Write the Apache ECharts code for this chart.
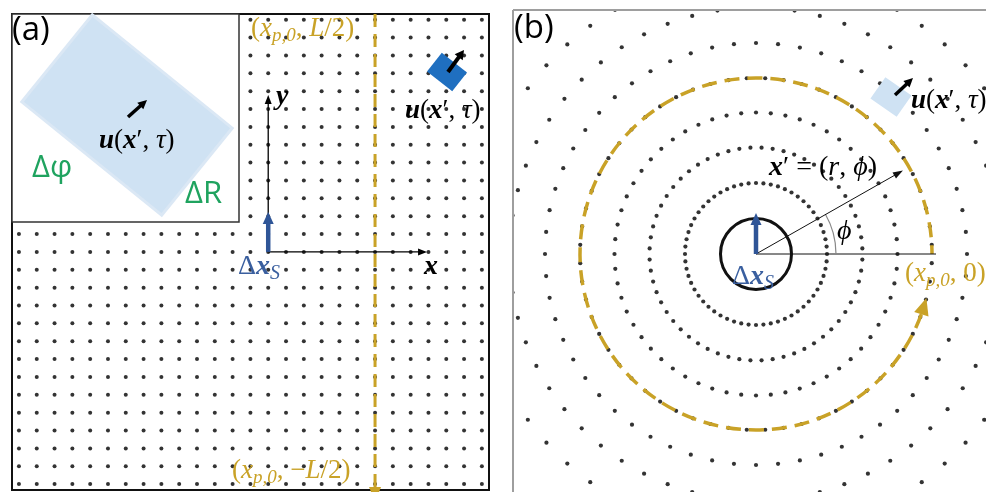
<!DOCTYPE html>
<html><head><meta charset="utf-8">
<script src="https://cdn.jsdelivr.net/npm/echarts@6/dist/echarts.min.js"></script>
<style>
html,body{margin:0;padding:0;background:#fff;width:986px;height:492px;overflow:hidden}
#a{position:absolute;left:0;top:0;width:500px;height:492px}
#b{position:absolute;left:512px;top:9px;width:474px;height:483px}
</style></head><body><div id="a"></div><div id="b"></div>
<script>
// ---------- data ----------
// panel (a): square lattice of source points (lattice units, origin at axes origin)
const latticeX = [-14,-13,-12,-11,-10,-9,-8,-7,-6,-5,-4,-3,-2,-1,0,1,2,3,4,5,6,7,8,9,10,11,12];
const latticeY = [-13,-12,-11,-10,-9,-8,-7,-6,-5,-4,-3,-2,-1,0,1,2,3,4,5,6,7,8,9,10,11,12,13];
const pathX = 6;                 // x_{p,0}
const pathYStart = 13.32;        // top of the straight path (L/2)
const pathYEnd = -13.16;         // bottom of the dashed path before the arrow
// panel (b): rings of source points
const ringRadius = [71, 106.5, 141.5, 176, 211, 246.5, 282];
const ringCount  = [60, 60, 60, 60, 60, 60, 60];
const ringOffset = [0, 3, 0, 3, 0, 3, 0];   // degrees
const pathRadius = 176;          // circular path radius
const pathArcEnd = 340;          // degrees, counter-clockwise from (x_{p,0},0)
const rayAngle = 29.6, rayLength = 169;

const gold = '#c9a227', green = '#1fa35f', blueDark = '#2f5597', blueLbl = '#3a5f9f';
const mathFont = 'Liberation Serif', sansFont = 'Open Sans';

// ---------- helpers ----------
function arrow(x1,y1,x2,y2,color,lw,hl,hw,z){
  const dx=x2-x1, dy=y2-y1, L=Math.hypot(dx,dy), ux=dx/L, uy=dy/L;
  const bx=x2-ux*hl, by=y2-uy*hl, px=-uy, py=ux;
  return [
    {type:'line', silent:true, z:z||50, shape:{x1:x1,y1:y1,x2:bx+ux*1.5,y2:by+uy*1.5}, style:{stroke:color,lineWidth:lw}},
    {type:'polygon', silent:true, z:z||50, shape:{points:[[x2,y2],[bx+px*hw/2,by+py*hw/2],[bx-px*hw/2,by-py*hw/2]]}, style:{fill:color}}
  ];
}
function mathRich(size,color){
  return {
    n:{fontFamily:mathFont,fontSize:size,fill:color},
    b:{fontFamily:mathFont,fontSize:size,fontWeight:'bold',fontStyle:'italic',fill:color},
    i:{fontFamily:mathFont,fontSize:size,fontStyle:'italic',fill:color},
    s:{fontFamily:mathFont,fontSize:Math.round(size*0.72),fontStyle:'italic',fill:color,padding:[Math.round(size*0.5),0,0,0]},
    g:{fontFamily:mathFont,fontSize:size,fill:color}
  };
}
function txt(x,y,text,rich,z){
  return {type:'text', silent:true, z:z||60, x:x, y:y,
    style:{text:text, rich:rich, fill:'#000', align:'left', textAlign:'left', verticalAlign:'middle', textVerticalAlign:'middle'}};
}
function plain(x,y,text,font,size,color,z){
  return {type:'text', silent:true, z:z||60, x:x, y:y,
    style:{text:text, fill:color, fontFamily:font, fontSize:size, align:'left', textAlign:'left', verticalAlign:'middle', textVerticalAlign:'middle'}};
}
const U = '{b|u}{n|(}{b|x}{n|′, }{i|τ}{n|)}';

// ---------- panel (a) ----------
const latticePts = [];
latticeY.forEach(y => latticeX.forEach(x => latticePts.push([x,y])));

const chartA = echarts.init(document.getElementById('a'), null, {renderer:'canvas'});
chartA.setOption({
  animation:false,
  grid:{left:12, top:14, width:477, height:476, show:true, borderColor:'#111', borderWidth:2, backgroundColor:'transparent'},
  xAxis:{type:'value', min:-14.39, max:12.40, show:false},
  yAxis:{type:'value', min:-13.33, max:13.32, show:false},
  series:[
    {type:'scatter', data:latticePts, symbolSize:4, itemStyle:{color:'#000'}, silent:true},
    {type:'line', data:[[pathX,pathYStart],[pathX,pathYEnd]], showSymbol:false, clip:false, silent:true,
     lineStyle:{color:gold, width:3, type:[13,7]}}
  ]
});
(function(){
  const P = p => chartA.convertToPixel({gridIndex:0}, p);
  const O = P([0,0]), yT = P([0,8.78]), xT = P([8.92,0]), bT = P([0,2.23]);
  const pe = P([pathX,pathYEnd]);
  const g = [];
  // inset
  g.push({type:'rect', silent:true, z:20, shape:{x:12,y:14,width:227,height:208}, style:{fill:'#fff', stroke:'#333', lineWidth:1.5}});
  g.push({type:'rect', silent:true, z:21, x:127, y:115, rotation:-39*Math.PI/180,
          shape:{x:-90,y:-56,width:180,height:112}, style:{fill:'#cfe2f3', stroke:'#dbe8f5', lineWidth:3}});
  g.push(...arrow(128,117,147,100,'#000',3.5,9,9,30));
  g.push(txt(99,141,U, mathRich(27,'#000')));
  g.push(plain(32,168,'Δφ',sansFont,31,green));
  g.push(plain(185,194,'ΔR',sansFont,31,green));
  g.push(plain(12,31,'(a)',sansFont,33,'#000'));
  // path arrow head and labels
  g.push({type:'polygon', silent:true, z:30, shape:{points:[[pe[0],pe[1]+15],[pe[0]-6,pe[1]],[pe[0]+6,pe[1]]]}, style:{fill:gold}});
  g.push(txt(251,29,'{n|(}{i|x}{s|p,0}{n|, }{i|L}{n|/2)}', mathRich(27,gold)));
  g.push(txt(232,471,'{n|(}{i|x}{s|p,0}{n|, −}{i|L}{n|/2)}', mathRich(27,gold)));
  // axes
  g.push(...arrow(O[0],O[1],yT[0],yT[1],'#000',1.3,9,7));
  g.push(...arrow(O[0],O[1],xT[0],xT[1],'#000',1.3,9,7));
  g.push(...arrow(O[0],O[1],bT[0],bT[1],blueDark,4.5,12,11,55));
  g.push(txt(276,97,'{b|y}', mathRich(28,'#000')));
  g.push(txt(424,267,'{b|x}', mathRich(28,'#000')));
  g.push(txt(238,267,'{g|Δ}{b|x}{s|S}', mathRich(28,blueLbl)));
  // displaced element
  g.push({type:'rect', silent:true, z:30, x:447, y:72, rotation:-38*Math.PI/180,
          shape:{x:-16,y:-12,width:32,height:24}, style:{fill:'#1f6fc0'}});
  g.push(...arrow(448,72,464,50,'#000',4,9,10,40));
  g.push(txt(405,111,U, mathRich(27,'#000')));
  chartA.setOption({graphic:{elements:g}});
})();

// ---------- panel (b) ----------
const ringPts = [];
ringRadius.forEach((r,k) => {
  for (let j=0;j<ringCount[k];j++) ringPts.push([r, ringOffset[k] + j*360/ringCount[k]]);
});
const chartB = echarts.init(document.getElementById('b'), null, {renderer:'canvas'});
chartB.setOption({
  animation:false,
  polar:{center:[244,245], radius:300},
  angleAxis:{type:'value', min:0, max:360, startAngle:0, clockwise:false, show:false},
  radiusAxis:{type:'value', min:0, max:300, show:false},
  series:[{type:'scatter', coordinateSystem:'polar', data:ringPts, symbolSize:4.2, itemStyle:{color:'#000'}, silent:true}]
});
(function(){
  let Pp = p => chartB.convertToPixel({seriesIndex:0}, p);
  let C = Pp([0,0]);
  if (!C) { Pp = p => [244 + p[0]*Math.cos(p[1]*Math.PI/180), 245 - p[0]*Math.sin(p[1]*Math.PI/180)]; C = Pp([0,0]); }
  const pr = Pp([pathRadius,0]);
  const R = pr[0]-C[0];
  const g = [];
  g.push({type:'line', silent:true, z:70, shape:{x1:1,y1:1,x2:474,y2:1}, style:{stroke:'#9e9e9e',lineWidth:2}});
  g.push({type:'line', silent:true, z:70, shape:{x1:1,y1:1,x2:1,y2:483}, style:{stroke:'#9e9e9e',lineWidth:2}});
  g.push(plain(2,20,'(b)',sansFont,33,'#000'));
  // circular path
  g.push({type:'arc', silent:true, z:30, shape:{cx:C[0],cy:C[1],r:R,startAngle:(360-pathArcEnd)*Math.PI/180,endAngle:2*Math.PI,clockwise:true},
          style:{stroke:gold,lineWidth:3.5,lineDash:[15,8],fill:null}});
  const a0 = (pathArcEnd)*Math.PI/180, tipA = (pathArcEnd+5.5)*Math.PI/180;
  const base = [C[0]+R*Math.cos(a0), C[1]-R*Math.sin(a0)];
  const tip = [C[0]+R*Math.cos(tipA), C[1]-R*Math.sin(tipA)];
  g.push(...arrow(base[0],base[1],tip[0],tip[1],gold,0.1,17,15,31));
  g.push(txt(393,265,'{n|(}{i|x}{s|p,0}{n|, 0)}', mathRich(27,gold)));
  // reference lines
  g.push({type:'line', silent:true, z:40, shape:{x1:C[0],y1:C[1],x2:C[0]+180,y2:C[1]}, style:{stroke:'#111',lineWidth:1}});
  const rt = Pp([rayLength, rayAngle]);
  g.push(...arrow(C[0],C[1],rt[0],rt[1],'#111',1,10,7,41));
  g.push({type:'arc', silent:true, z:40, shape:{cx:C[0],cy:C[1],r:80,startAngle:-30*Math.PI/180,endAngle:0,clockwise:true},
          style:{stroke:'#888',lineWidth:1.2,fill:null}});
  g.push(txt(325,223,'{i|ϕ}', mathRich(28,'#000')));
  g.push(txt(257,159,'{b|x}{n|′ = (}{i|r}{n|, }{i|ϕ}{n|)}', mathRich(28,'#000')));
  // source circle and shift
  g.push({type:'circle', silent:true, z:45, shape:{cx:C[0],cy:C[1],r:35.5}, style:{stroke:'#111',lineWidth:3,fill:null}});
  g.push(...arrow(C[0],C[1],C[0],C[1]-41,blueDark,4.5,12,11,55));
  g.push(txt(220,268,'{g|Δ}{b|x}{s|S}', mathRich(28,blueLbl)));
  // displaced element
  g.push({type:'rect', silent:true, z:30, x:379, y:88, rotation:-35*Math.PI/180,
          shape:{x:-16,y:-13,width:32,height:26}, style:{fill:'#cfe2f3'}});
  g.push(...arrow(383,86,401,69,'#000',3.5,9,9,40));
  g.push(txt(399,92,U, mathRich(27,'#000')));
  chartB.setOption({graphic:{elements:g}});
})();
</script></body></html>
